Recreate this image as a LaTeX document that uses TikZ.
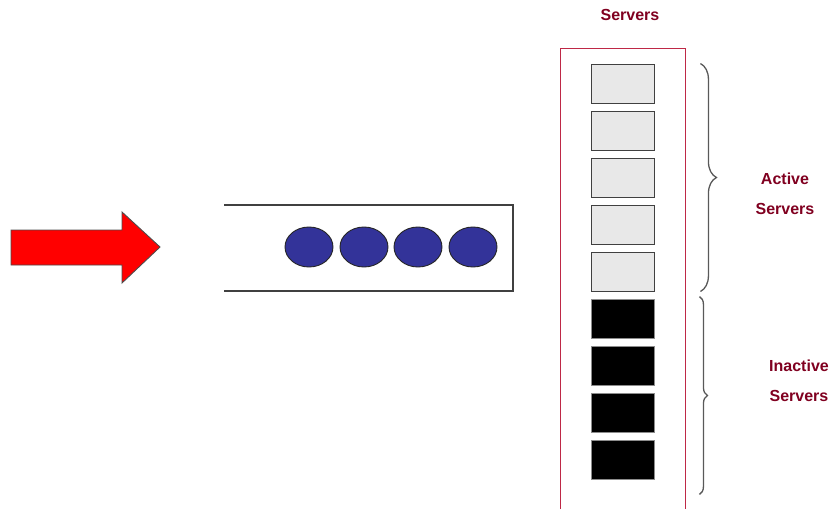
\documentclass[tikz,border=0pt]{standalone}
\usepackage{fontspec}
\setmainfont{Liberation Sans}
\usepackage{tikz}
\usetikzlibrary{shapes,arrows,positioning,calc,decorations.pathreplacing}

\definecolor{srvred}{RGB}{128,0,32}
\definecolor{framered}{RGB}{190,40,70}
\definecolor{jobblue}{RGB}{51,51,153}

\begin{document}
\begin{tikzpicture}[x=1pt,y=-1pt,
	srvlabel/.style={text=srvred,align=center,font=\bfseries\fontsize{16}{30}\selectfont},
	active/.style={draw=black!75,fill=black!9,line width=0.9pt,minimum width=63,minimum height=39,inner sep=0pt},
	idle/.style={draw=black!45,fill=black,line width=0.9pt,minimum width=63,minimum height=39,inner sep=0pt},
	job/.style={ellipse,draw=black!85,fill=jobblue,line width=0.9pt,minimum width=48,minimum height=40,inner sep=0pt},
	bracket/.style={decorate,decoration={brace,amplitude=#1},draw=black!65,line width=1.3pt}]
						\useasboundingbox (0,0) rectangle (835,509);
						\draw[fill=red,draw=black!70,line width=0.9pt] (11,230) -- (122,230) -- (122,212) -- (160,247)
							-- (122,283) -- (122,265) -- (11,265) -- cycle; % Arrival
						\draw[black!75,line width=1.2pt] (224,205) -| (513,291) -- (224,291); % Queue
						\foreach \i/\x in {1/309,2/364,3/418,4/473}
							\node[job] (j\i) at (\x,247) {};
						\draw[framered,line width=1pt] (560,509) |- (685,48) -- (685,509); % Servers
						\node[srvlabel] (title) at (630,15) {Servers};
						\foreach \i in {1,...,5}
							\node[active] (s\i) at (622.5,{83.5+47*(\i-1)}) {};
						\foreach \i in {6,...,9}
							\node[idle] (s\i) at (622.5,{83.5+47*(\i-1)}) {};
						\draw[bracket=16] ($(s1.north east)+(46,0)$) -- ($(s5.south east)+(46,0)$);
						\draw[bracket=8] ($(s6.north east)+(45,-2)$) -- ($(s9.south east)+(45,15)$);
						\node[srvlabel] (act) at (785,194) {Active\\Servers};
						\node[srvlabel] (inact) at (799,381) {Inactive\\Servers};
					\end{tikzpicture}
\end{document}
